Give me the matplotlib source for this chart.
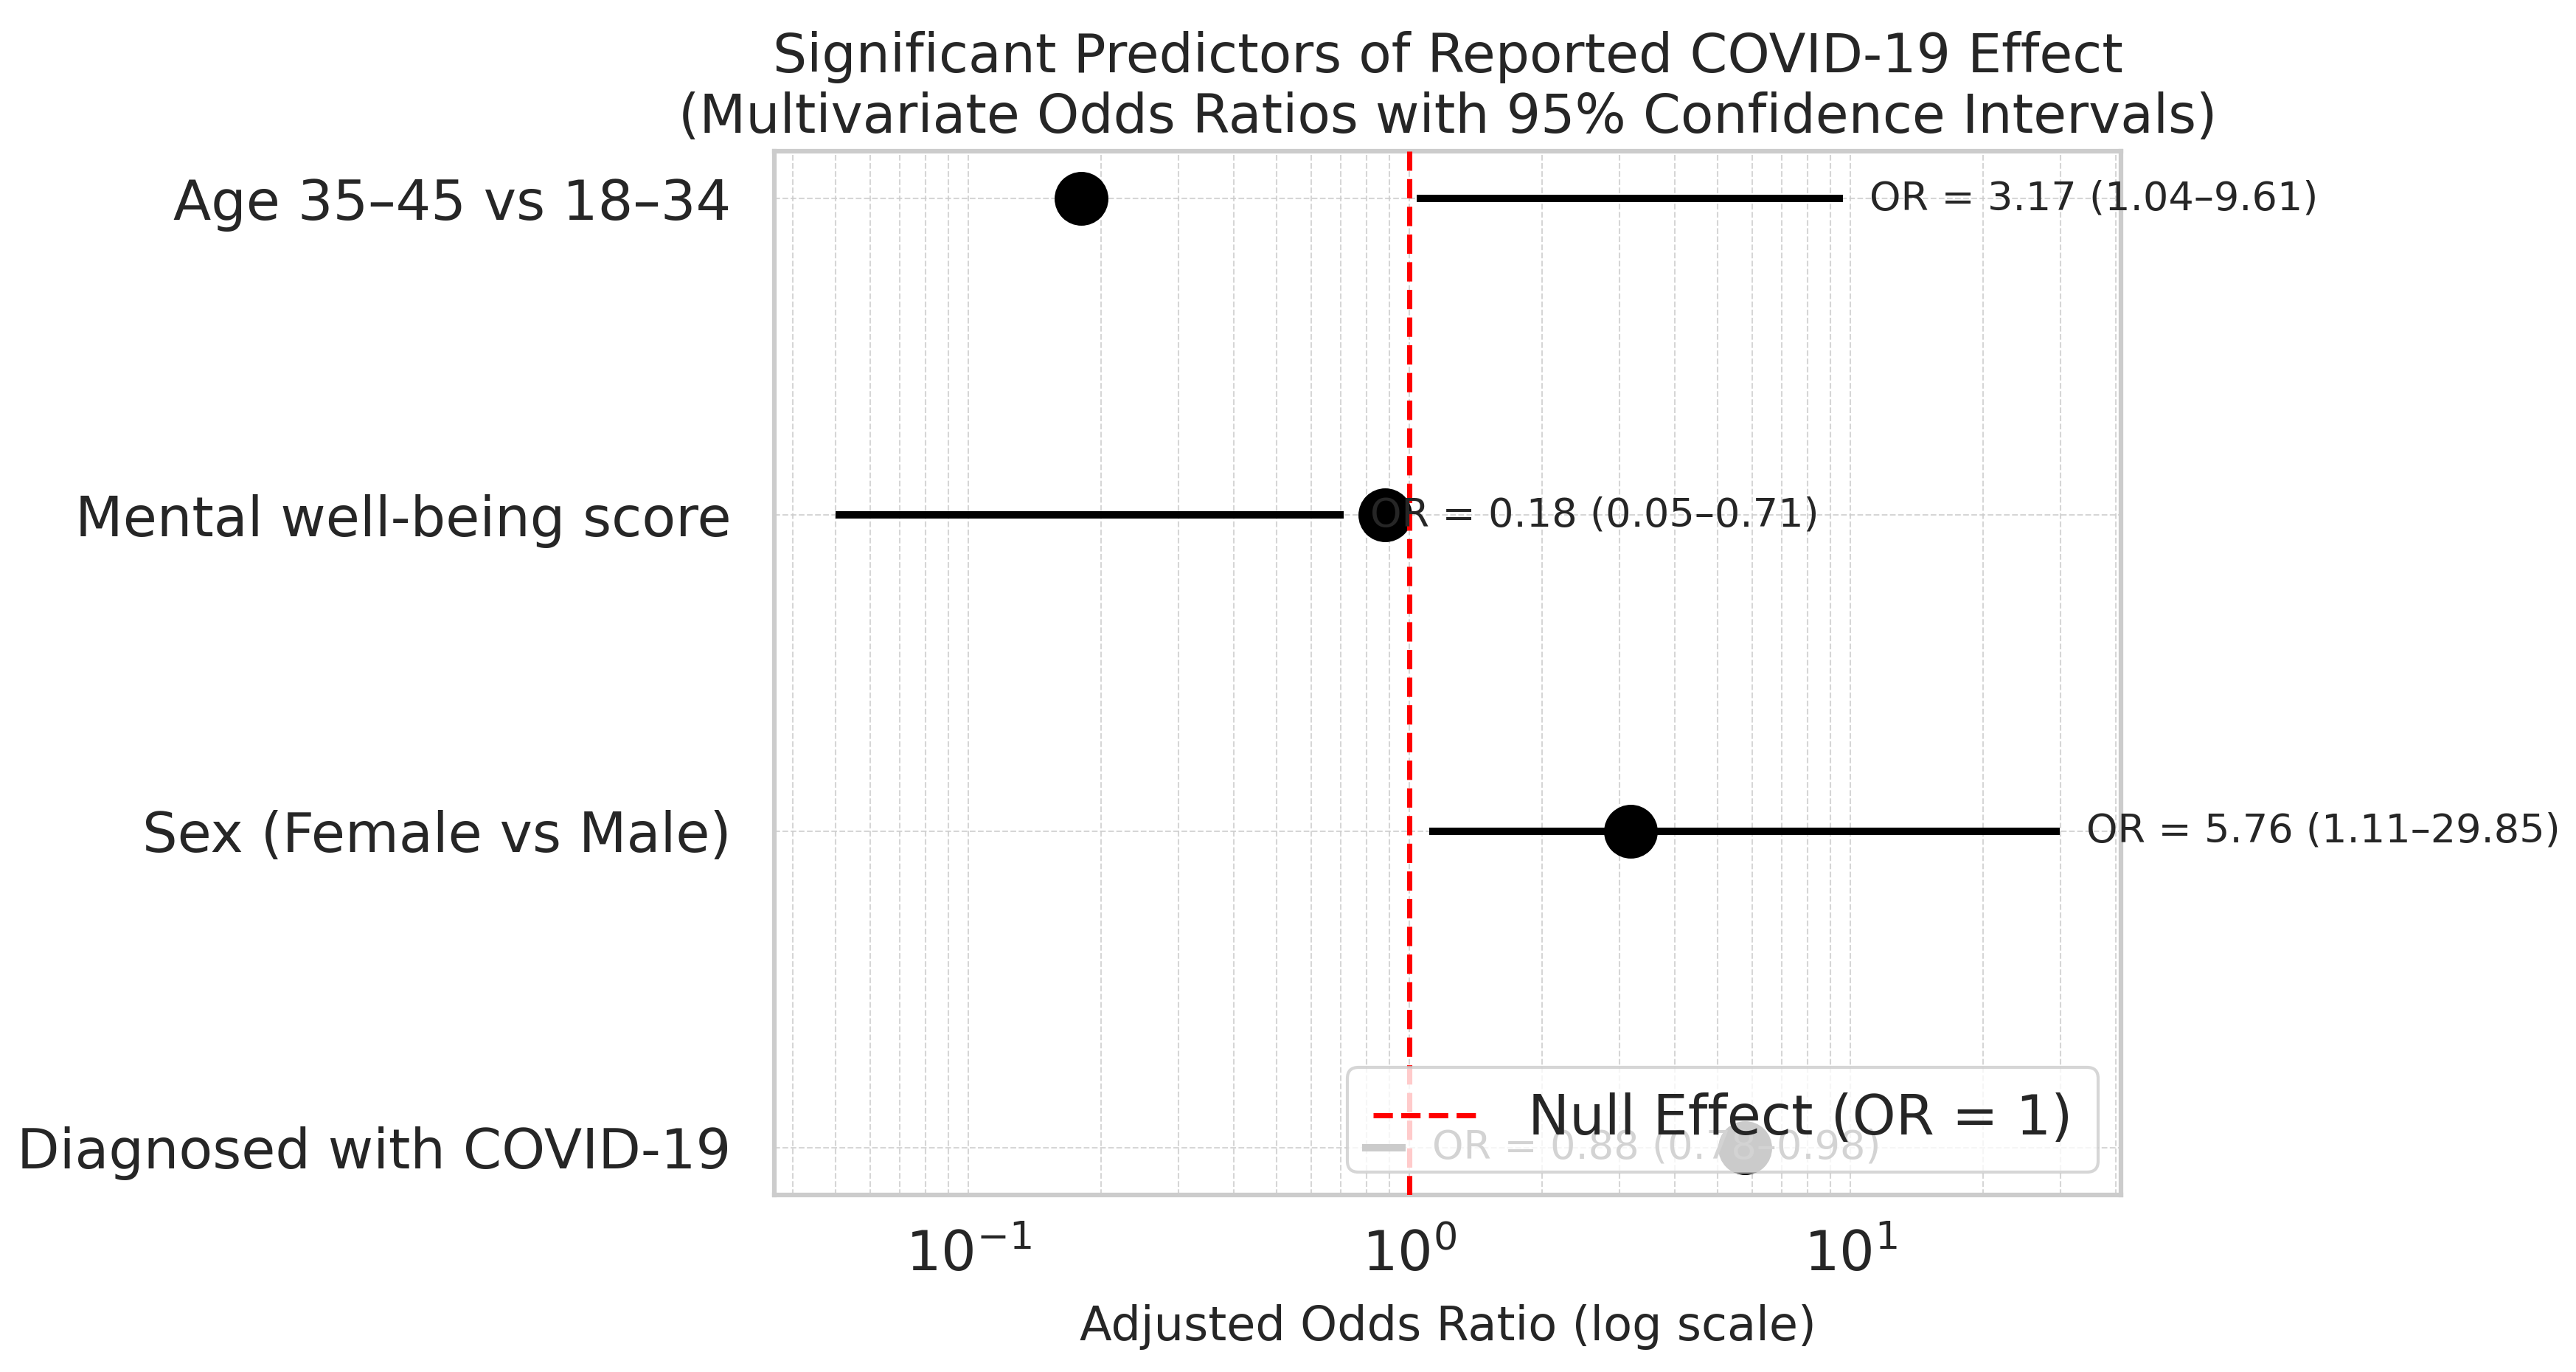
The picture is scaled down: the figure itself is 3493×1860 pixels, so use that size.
import matplotlib
matplotlib.use("Agg")
import matplotlib.pyplot as plt

# predictors, top to bottom
predictors = ["Age 35–45 vs 18–34", "Mental well-being score",
              "Sex (Female vs Male)", "Diagnosed with COVID-19"]
odds_ratios = [3.17, 0.18, 5.76, 0.88]
ci_low = [1.04, 0.05, 1.11, 0.78]
ci_high = [9.61, 0.71, 29.85, 0.98]
# where the dots actually sit in the figure
dot_values = [0.18, 0.88, 3.17, 5.76]

plt.rcParams["font.family"] = "DejaVu Sans"
for key in ["text.color", "axes.labelcolor", "xtick.color", "ytick.color"]:
    plt.rcParams[key] = "0.15"

fig = plt.figure(figsize=(3493 / 300, 1860 / 300), dpi=300)
ax = fig.add_axes([0.3006, 0.129, 0.5228, 0.7608])

rows = list(range(len(predictors)))

ax.hlines(rows, ci_low, ci_high, color="black", linewidth=2.4, zorder=2)
ax.plot(dot_values, rows, "o", color="black", markersize=16.5, zorder=3)
ax.axvline(1, color="red", linestyle="--", linewidth=1.7, zorder=4,
           label="Null Effect (OR = 1)")

for r, o, lo, hi in zip(rows, odds_ratios, ci_low, ci_high):
    ax.text(hi * 1.15, r, f"OR = {o:.2f} ({lo:.2f}–{hi:.2f})",
            ha="left", va="center", fontsize=13, zorder=5)

ax.set_xscale("log")
ax.set_yticks(rows)
ax.set_yticklabels(predictors)
ax.invert_yaxis()

ax.set_axisbelow(True)
ax.grid(True, which="both", linestyle="--", linewidth=0.5, color="0.8", alpha=0.8)
ax.tick_params(axis="both", which="both", length=0, labelsize=18)
ax.tick_params(axis="y", pad=14)
ax.tick_params(axis="x", pad=11)
for spine in ax.spines.values():
    spine.set_color("0.8")
    spine.set_linewidth(1.5)

ax.set_xlabel("Adjusted Odds Ratio (log scale)", fontsize=15.3, labelpad=7)
ax.set_title("Significant Predictors of Reported COVID-19 Effect\n"
             "(Multivariate Odds Ratios with 95% Confidence Intervals)",
             fontsize=17.5, pad=6)
leg = ax.legend(loc="lower right", fontsize=18, edgecolor="0.8", fancybox=True,
                framealpha=0.8, borderpad=0.46, borderaxespad=0.42)
leg.set_zorder(10)

fig.savefig("out.png", dpi=300)
